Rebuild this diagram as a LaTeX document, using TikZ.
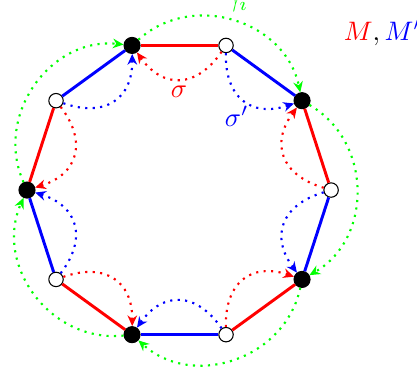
\documentclass[tikz,border=0pt]{standalone}
\usepackage{amsmath}
\usetikzlibrary{arrows.meta}
\tikzset{
  blackv/.style={circle, fill=black, draw=black, inner sep=0pt, minimum size=6pt},
  whitev/.style={circle, fill=white, draw=black, inner sep=0pt, minimum size=5.4pt},
  edgeline/.style={line width=1.1pt},
  perm/.style={thick, dotted, -{Stealth[length=4pt, width=3.6pt]}},
}
\begin{document}
\begin{tikzpicture}
  \useasboundingbox (-2.355,-2.5) rectangle (3.13,2.5);
  % vertices of the decagon
  \foreach \i in {0,...,4} {
    \node[blackv] (b\i) at ({180-72*\i}:2) {};
    \node[whitev] (w\i) at ({144-72*\i}:2) {};
  }
  % edges of M (red) and M' (blue)
  \foreach \i in {0,...,4} {
    \pgfmathtruncatemacro{\j}{mod(\i+1,5)}
    \draw[red, edgeline] (b\i) -- (w\i);
    \draw[blue, edgeline] (w\i) -- (b\j);
  }
  % sigma, sigma' and gamma_i
  \foreach \i in {0,...,4} {
    \pgfmathtruncatemacro{\j}{mod(\i+1,5)}
    \draw[perm, red] (w\i) to[bend left=55, looseness=1.35] (b\i);
    \draw[perm, blue] (w\i) to[bend right=55, looseness=1.35] (b\j);
    \draw[perm, green] (b\i) to[bend left=60, looseness=1.1] (b\j);
  }
  % labels
  \node[red] (sig) at (0,1.29) {$\sigma$};
  \node[blue] (sigp) at (0.76,0.97) {$\sigma'$};
  \node[green, anchor=base] (gam) at (0.76,2.42) {$\gamma_i$};
  \node[anchor=base west, inner sep=0pt] (mm) at (2.16,1.97)
    {${\color{red}M}, {\color{blue}M'}$};
\end{tikzpicture}
\end{document}
